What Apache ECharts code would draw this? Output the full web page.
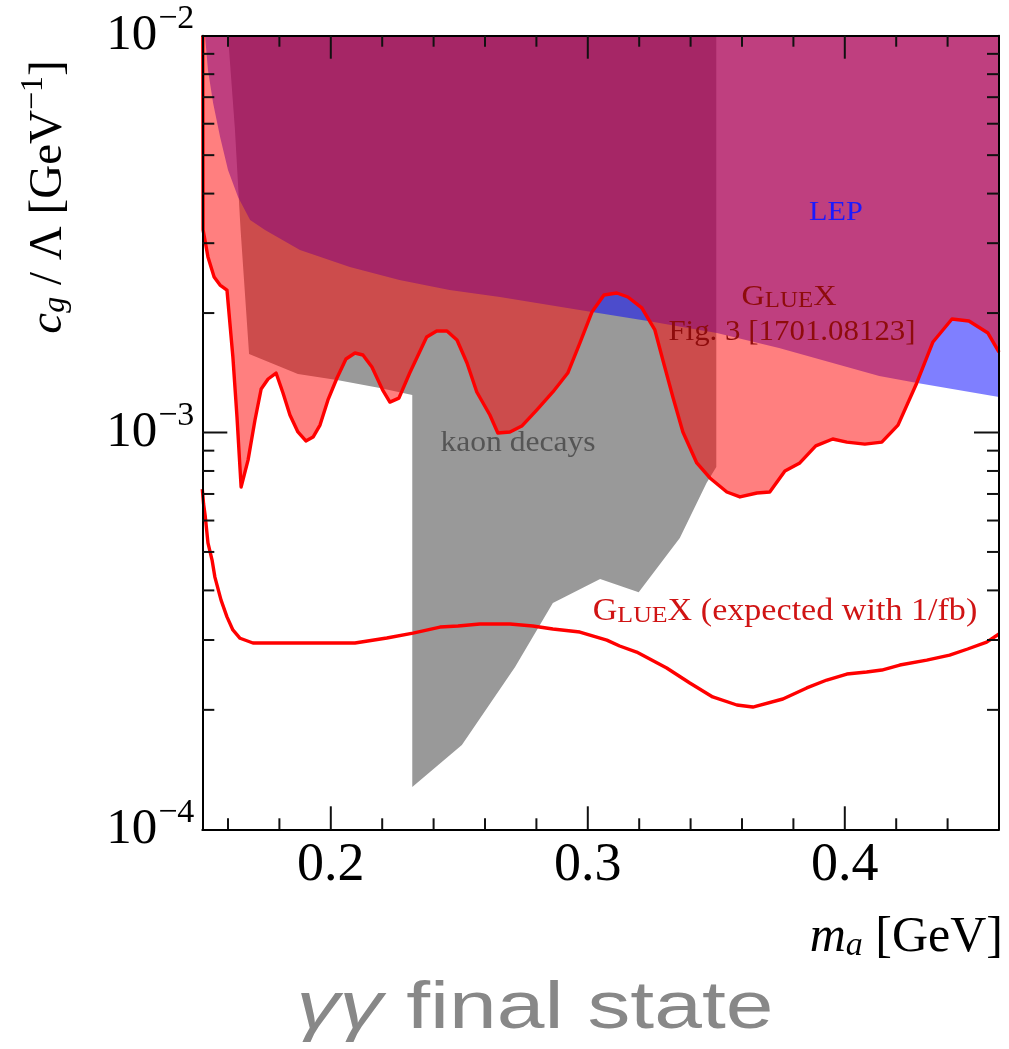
<!DOCTYPE html>
<html>
<head>
<meta charset="utf-8">
<script src="https://cdn.jsdelivr.net/npm/echarts@6/dist/echarts.min.js"></script>
<style>
html,body{margin:0;padding:0;background:#fff;}
#chart{width:1009px;height:1049px;}
</style>
</head>
<body>
<div id="chart"></div>
<script>
// ---------- data ----------
const xMin = 0.15, xMax = 0.46, yMin = 1e-4, yMax = 1e-2;
const xLabelValues = [0.2, 0.3, 0.4];
const xMinorTicks = [0.16, 0.18, 0.22, 0.24, 0.26, 0.28, 0.32, 0.34, 0.36, 0.38, 0.42, 0.44];
const yMajorTicks = [1e-3];
const yMinorTicks = [2e-4, 3e-4, 4e-4, 5e-4, 6e-4, 7e-4, 8e-4, 9e-4, 2e-3, 3e-3, 4e-3, 5e-3, 6e-3, 7e-3, 8e-3, 9e-3];

// kaon decays excluded region (polygon)
const kaonX = [0.160, 0.1627, 0.1649, 0.1682, 0.1872, 0.2024, 0.2191, 0.2317, 0.2317, 0.2510, 0.2717, 0.2864, 0.3048, 0.3198, 0.3358, 0.3462, 0.35, 0.35];
const kaonY = [1e-2, 5.79e-3, 3.24e-3, 1.577e-3, 1.404e-3, 1.356e-3, 1.295e-3, 1.243e-3, 1.278e-4, 1.631e-4, 2.564e-4, 3.718e-4, 4.273e-4, 3.96e-4, 5.42e-4, 7.46e-4, 8.18e-4, 1e-2];

// LEP lower boundary (excluded above)
const lepX = [0.1503, 0.1511, 0.1522, 0.1542, 0.1569, 0.1600, 0.1639, 0.1686, 0.1744, 0.1880, 0.2074, 0.2267, 0.2462, 0.2658, 0.3016, 0.3234, 0.3502, 0.3744, 0.4134, 0.4282, 0.46];
const lepY = [1e-2, 9.93e-3, 8.2e-3, 6.77e-3, 5.56e-3, 4.59e-3, 3.92e-3, 3.43e-3, 3.24e-3, 2.884e-3, 2.613e-3, 2.422e-3, 2.286e-3, 2.195e-3, 2.012e-3, 1.910e-3, 1.781e-3, 1.633e-3, 1.388e-3, 1.333e-3, 1.229e-3];

// GlueX Fig. 3 [1701.08123] limit (excluded above)
const gluexX = [0.1502, 0.1503, 0.1522, 0.1546, 0.1569, 0.1596, 0.1619, 0.1635, 0.1651, 0.1678, 0.1705, 0.1729, 0.1756, 0.1787, 0.1814, 0.1841, 0.1872, 0.1903, 0.1931, 0.1958, 0.1989, 0.2024, 0.2059, 0.2094, 0.2125, 0.2160, 0.2202, 0.2230, 0.2265, 0.2307, 0.2373, 0.2412, 0.2452, 0.2491, 0.2530, 0.2568, 0.2619, 0.2650, 0.2697, 0.2743, 0.2801, 0.2864, 0.2922, 0.2969, 0.3016, 0.3063, 0.3113, 0.3156, 0.3210, 0.3261, 0.3292, 0.3331, 0.3370, 0.3424, 0.3475, 0.3541, 0.3592, 0.3658, 0.3708, 0.3767, 0.3825, 0.3887, 0.3953, 0.4008, 0.4078, 0.4144, 0.4207, 0.4280, 0.4343, 0.4417, 0.4483, 0.4557, 0.46];
const gluexY = [1e-2, 3.24e-3, 2.77e-3, 2.465e-3, 2.353e-3, 2.286e-3, 1.55e-3, 1.094e-3, 7.29e-4, 8.52e-4, 1.075e-3, 1.287e-3, 1.364e-3, 1.412e-3, 1.258e-3, 1.107e-3, 1.003e-3, 9.52e-4, 9.74e-4, 1.044e-3, 1.208e-3, 1.372e-3, 1.532e-3, 1.586e-3, 1.568e-3, 1.463e-3, 1.279e-3, 1.193e-3, 1.221e-3, 1.412e-3, 1.740e-3, 1.802e-3, 1.802e-3, 1.710e-3, 1.497e-3, 1.265e-3, 1.107e-3, 9.97e-4, 1.003e-3, 1.038e-3, 1.139e-3, 1.265e-3, 1.412e-3, 1.680e-3, 2.012e-3, 2.221e-3, 2.247e-3, 2.195e-3, 2.060e-3, 1.813e-3, 1.523e-3, 1.229e-3, 1.003e-3, 8.38e-4, 7.68e-4, 7.08e-4, 6.88e-4, 7.04e-4, 7.08e-4, 8.0e-4, 8.38e-4, 9.25e-4, 9.63e-4, 9.46e-4, 9.35e-4, 9.46e-4, 1.044e-3, 1.333e-3, 1.691e-3, 1.932e-3, 1.910e-3, 1.781e-3, 1.595e-3];

// GlueX expected with 1/fb
const expX = [0.15, 0.1505, 0.1511, 0.1522, 0.1538, 0.1549, 0.1573, 0.1596, 0.1619, 0.1647, 0.1697, 0.2094, 0.2218, 0.2320, 0.2425, 0.2495, 0.2580, 0.2697, 0.2786, 0.2864, 0.2969, 0.3074, 0.3124, 0.3190, 0.3307, 0.3397, 0.3486, 0.3580, 0.3642, 0.3759, 0.3852, 0.3930, 0.4008, 0.4085, 0.4144, 0.4214, 0.4319, 0.4408, 0.4478, 0.4552, 0.46];
const expY = [7.2e-4, 6.6e-4, 6.19e-4, 5.27e-4, 4.77e-4, 4.32e-4, 3.78e-4, 3.43e-4, 3.18e-4, 3.03e-4, 2.948e-4, 2.948e-4, 3.034e-4, 3.123e-4, 3.234e-4, 3.253e-4, 3.291e-4, 3.291e-4, 3.253e-4, 3.197e-4, 3.142e-4, 2.998e-4, 2.897e-4, 2.797e-4, 2.55e-4, 2.337e-4, 2.155e-4, 2.057e-4, 2.033e-4, 2.13e-4, 2.271e-4, 2.378e-4, 2.462e-4, 2.491e-4, 2.52e-4, 2.594e-4, 2.670e-4, 2.749e-4, 2.847e-4, 2.964e-4, 3.106e-4];

// ---------- chart ----------
const SERIF = "'Liberation Serif','DejaVu Serif',serif";
const SANS = "'Liberation Sans','DejaVu Sans',sans-serif";
const chart = echarts.init(document.getElementById('chart'), null, {renderer: 'canvas'});

function polySeries(name, xs, ys, fill, z) {
  return {
    name: name, type: 'custom', z: z, silent: true, clip: true,
    xAxisIndex: 0, yAxisIndex: 0,
    data: [[xs[0], ys[0]]],
    renderItem: function (params, api) {
      const pts = xs.map((x, i) => api.coord([x, ys[i]]));
      return {type: 'polygon', shape: {points: pts}, style: {fill: fill, stroke: null}};
    }
  };
}

function lineSeries(name, xs, ys) {
  return {
    name: name, type: 'line', z: 6, silent: true, clip: true,
    showSymbol: false, symbol: 'none', smooth: false,
    lineStyle: {color: '#ff0000', width: 3.4, join: 'round'},
    data: xs.map((x, i) => [x, ys[i]])
  };
}

const tickSeries = {
  type: 'custom', z: 12, silent: true, clip: false,
  data: [[0.3, 1e-3]],
  renderItem: function (params, api) {
    const children = [];
    const st = {stroke: '#111', lineWidth: 2};
    function vt(x, len) {
      const b = api.coord([x, yMin]), t = api.coord([x, yMax]);
      children.push({type: 'line', shape: {x1: b[0], y1: b[1], x2: b[0], y2: b[1] - len}, style: st});
      children.push({type: 'line', shape: {x1: t[0], y1: t[1], x2: t[0], y2: t[1] + len}, style: st});
    }
    function ht(y, len) {
      const l = api.coord([xMin, y]), r = api.coord([xMax, y]);
      children.push({type: 'line', shape: {x1: l[0], y1: l[1], x2: l[0] + len, y2: l[1]}, style: st});
      children.push({type: 'line', shape: {x1: r[0], y1: r[1], x2: r[0] - len, y2: r[1]}, style: st});
    }
    xMinorTicks.forEach(v => vt(v, 11));
    xLabelValues.forEach(v => vt(v, 23));
    yMinorTicks.forEach(v => ht(v, 12));
    yMajorTicks.forEach(v => ht(v, 25));
    return {type: 'group', children: children};
  }
};

const axisLineStyle = {show: true, lineStyle: {color: '#000', width: 2}};

const option = {
  animation: false,
  backgroundColor: '#fff',
  grid: {left: 202.3, top: 35.7, width: 796.7, height: 793.6, containLabel: false},
  xAxis: [
    {
      type: 'value', min: xMin, max: xMax, splitNumber: 3, position: 'bottom', z: 10,
      axisLine: axisLineStyle, axisTick: {show: false}, splitLine: {show: false},
      axisLabel: {
        margin: 10, fontFamily: SERIF, fontSize: 54, color: '#000',
        showMinLabel: false, showMaxLabel: false,
        formatter: function (v) {
          for (const t of xLabelValues) { if (Math.abs(v - t) < 1e-9) return t.toFixed(1); }
          return '';
        }
      }
    },
    {
      type: 'value', min: xMin, max: xMax, position: 'top', z: 10,
      axisLine: axisLineStyle, axisTick: {show: false}, axisLabel: {show: false}, splitLine: {show: false}
    }
  ],
  yAxis: [
    {
      type: 'log', logBase: 10, min: yMin, max: yMax, position: 'left', z: 10,
      axisLine: axisLineStyle, axisTick: {show: false}, splitLine: {show: false}, minorSplitLine: {show: false},
      axisLabel: {
        margin: 8, fontFamily: SERIF, color: '#000',
        formatter: function (v) {
          const e = Math.round(Math.log10(v));
          return '{b|10}{s|\u2212' + (-e) + '}';
        },
        rich: {
          b: {fontFamily: SERIF, fontSize: 51, color: '#000', verticalAlign: 'bottom', lineHeight: 51},
          s: {fontFamily: SERIF, fontSize: 34, color: '#000', verticalAlign: 'bottom', lineHeight: 34, padding: [0, 0, 25, 1]}
        }
      }
    },
    {
      type: 'log', logBase: 10, min: yMin, max: yMax, position: 'right', z: 10,
      axisLine: axisLineStyle, axisTick: {show: false}, axisLabel: {show: false}, splitLine: {show: false}
    }
  ],
  graphic: [
    {type: 'text', x: 45, y: 197, rotation: Math.PI / 2, z: 20,
      style: {
        text: '{i|c}{sub|g}{n| / \u039B [GeV}{sup|\u22121}{n|]}',
        align: 'center', verticalAlign: 'middle',
        rich: {
          i: {fontFamily: SERIF, fontStyle: 'italic', fontSize: 47, fill: '#000', verticalAlign: 'bottom'},
          sub: {fontFamily: SERIF, fontStyle: 'italic', fontSize: 32, fill: '#000', verticalAlign: 'bottom', padding: [12, 0, 0, 0]},
          n: {fontFamily: SERIF, fontSize: 47, fill: '#000', verticalAlign: 'bottom'},
          sup: {fontFamily: SERIF, fontSize: 32, fill: '#000', verticalAlign: 'bottom', padding: [0, 0, 22, 0]}
        }
      }
    },
    {type: 'text', x: 1003, y: 938, z: 20,
      style: {
        text: '{i|m}{sub|a}{n| [GeV]}',
        align: 'right', verticalAlign: 'middle',
        rich: {
          i: {fontFamily: SERIF, fontStyle: 'italic', fontSize: 50, fill: '#000', verticalAlign: 'bottom'},
          sub: {fontFamily: SERIF, fontStyle: 'italic', fontSize: 34, fill: '#000', verticalAlign: 'bottom', padding: [12, 0, 0, 0]},
          n: {fontFamily: SERIF, fontSize: 50, fill: '#000', verticalAlign: 'bottom'}
        }
      }
    },
    {type: 'text', x: 535, y: 1010, z: 20, scaleX: 1.3,
      style: {
        text: '{g|\u03B3\u03B3}{n| final state}',
        align: 'center', verticalAlign: 'middle',
        rich: {
          g: {fontFamily: SANS, fontStyle: 'italic', fontSize: 66, fill: '#888888'},
          n: {fontFamily: SANS, fontSize: 66, fill: '#888888'}
        }
      }
    },
    {type: 'text', x: 836, y: 213, z: 20, scaleX: 1.08,
      style: {text: 'LEP', fontFamily: SERIF, fontSize: 28, fill: '#1a1aff', align: 'center', verticalAlign: 'middle'}
    },
    {type: 'text', x: 789, y: 297, z: 20, scaleX: 1.08,
      style: {
        text: '{a|G}{b|LUE}{a|X}', align: 'center', verticalAlign: 'middle',
        rich: {
          a: {fontFamily: SERIF, fontSize: 30, fill: '#8e0c0c', verticalAlign: 'bottom'},
          b: {fontFamily: SERIF, fontSize: 23, fill: '#8e0c0c', verticalAlign: 'bottom'}
        }
      }
    },
    {type: 'text', x: 792, y: 332, z: 20, scaleX: 1.03,
      style: {text: 'Fig. 3 [1701.08123]', fontFamily: SERIF, fontSize: 30, fill: '#8e0c0c', align: 'center', verticalAlign: 'middle'}
    },
    {type: 'text', x: 518, y: 443, z: 20, scaleX: 1.07,
      style: {text: 'kaon decays', fontFamily: SERIF, fontSize: 29.5, fill: '#555555', align: 'center', verticalAlign: 'middle'}
    },
    {type: 'text', x: 785, y: 612, z: 20, scaleX: 1.1,
      style: {
        text: '{a|G}{b|LUE}{a|X}{a| (expected with 1/fb)}', align: 'center', verticalAlign: 'middle',
        rich: {
          a: {fontFamily: SERIF, fontSize: 31, fill: '#d01414', verticalAlign: 'bottom'},
          b: {fontFamily: SERIF, fontSize: 23.5, fill: '#d01414', verticalAlign: 'bottom'}
        }
      }
    }
  ],
  series: [
    polySeries('kaon decays', kaonX, kaonY, '#999999', 2),
    polySeries('LEP', lepX.concat([xMax]), lepY.concat([yMax]), 'rgba(0,0,255,0.5)', 3),
    polySeries('GlueX', gluexX.concat([xMax]), gluexY.concat([yMax]), 'rgba(255,0,0,0.5)', 4),
    lineSeries('GlueX Fig. 3', gluexX, gluexY),
    lineSeries('GlueX expected', expX, expY),
    tickSeries
  ]
};
chart.setOption(option);
</script>
</body>
</html>
